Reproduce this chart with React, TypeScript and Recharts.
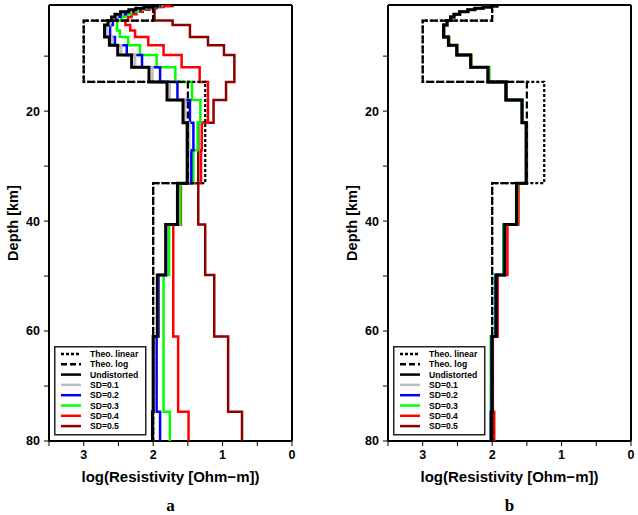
import { ScatterChart, Scatter, XAxis, YAxis } from 'recharts'

// layer tops in km (last layer runs to 80 km)
const layerTops = [0.7, 0.86, 1.05, 1.28, 1.57, 1.93, 2.36, 2.89, 3.54, 4.34, 5.32, 6.52, 8.0, 9.8, 12.0, 14.7, 18.0, 22.1, 27.1, 33.1, 40.6, 49.8, 61.0, 74.7]
const maxDepth = 80

// theoretical model
const theoTops = [0.7, 3.54, 14.7, 33.1]
const theoLinear = [2.0, 3.0, 1.25, 2.0]
const theoLog = [2.0, 3.0, 1.5, 2.0]

const undistorted = [1.93, 2.01, 2.13, 2.25, 2.35, 2.47, 2.55, 2.6, 2.65, 2.7, 2.7, 2.63, 2.51, 2.31, 2.06, 1.8, 1.57, 1.51, 1.51, 1.65, 1.82, 1.94, 2.0, 2.01]

// panel a
const aSd01 = [1.92, 1.99, 2.1, 2.22, 2.32, 2.44, 2.52, 2.57, 2.62, 2.67, 2.67, 2.59, 2.46, 2.26, 2.01, 1.76, 1.54, 1.48, 1.49, 1.64, 1.81, 1.93, 1.99, 2.0]
const aSd02 = [1.9, 1.97, 2.07, 2.18, 2.28, 2.39, 2.47, 2.53, 2.58, 2.62, 2.62, 2.55, 2.38, 2.16, 1.9, 1.65, 1.47, 1.42, 1.45, 1.64, 1.81, 1.92, 1.95, 1.9]
const aSd03 = [1.88, 1.94, 2.03, 2.13, 2.22, 2.32, 2.4, 2.46, 2.52, 2.52, 2.48, 2.36, 2.19, 1.95, 1.68, 1.44, 1.32, 1.36, 1.42, 1.61, 1.77, 1.85, 1.85, 1.76]
const aSd04 = [1.76, 1.85, 1.95, 2.05, 2.15, 2.24, 2.31, 2.36, 2.4, 2.33, 2.26, 2.07, 1.85, 1.59, 1.33, 1.21, 1.21, 1.3, 1.31, 1.6, 1.71, 1.71, 1.64, 1.49]
const aSd05 = [1.72, 1.9, 1.97, 1.98, 1.98, 1.98, 1.98, 1.98, 1.72, 1.47, 1.47, 1.21, 0.98, 0.83, 0.83, 0.95, 1.13, 1.35, 1.35, 1.35, 1.25, 1.12, 0.92, 0.72]

// panel b
const bSd01 = [1.93, 2.01, 2.13, 2.25, 2.35, 2.47, 2.55, 2.6, 2.65, 2.7, 2.7, 2.63, 2.51, 2.31, 2.06, 1.8, 1.57, 1.51, 1.51, 1.65, 1.82, 1.94, 2.0, 2.01]
const bSd02 = [1.93, 2.01, 2.13, 2.25, 2.35, 2.47, 2.55, 2.6, 2.65, 2.7, 2.7, 2.63, 2.51, 2.31, 2.06, 1.8, 1.57, 1.51, 1.51, 1.65, 1.83, 1.95, 2.01, 2.02]
const bSd03 = [1.92, 2.0, 2.12, 2.24, 2.34, 2.46, 2.54, 2.59, 2.64, 2.69, 2.69, 2.62, 2.5, 2.3, 2.04, 1.79, 1.56, 1.5, 1.5, 1.64, 1.84, 1.96, 2.02, 2.02]
const bSd04 = [1.92, 2.0, 2.12, 2.24, 2.34, 2.46, 2.54, 2.59, 2.64, 2.69, 2.69, 2.62, 2.5, 2.3, 2.05, 1.81, 1.56, 1.5, 1.5, 1.62, 1.78, 1.92, 1.99, 1.97]
const bSd05 = [1.93, 2.01, 2.13, 2.25, 2.35, 2.47, 2.55, 2.6, 2.65, 2.7, 2.7, 2.63, 2.51, 2.31, 2.06, 1.8, 1.57, 1.51, 1.51, 1.65, 1.82, 1.94, 2.0, 2.01]

const xTicks = [0, 0.5, 1, 1.5, 2, 2.5, 3, 3.5]
const yTicks = [10, 20, 30, 40, 50, 60, 70, 80]

const legendItems = [
  { label: 'Theo. linear', color: '#000', dash: '3 2' },
  { label: 'Theo. log', color: '#000', dash: '6 3' },
  { label: 'Undistorted', color: '#000' },
  { label: 'SD=0.1', color: '#bdbdbd' },
  { label: 'SD=0.2', color: '#0000ff' },
  { label: 'SD=0.3', color: '#00ff00' },
  { label: 'SD=0.4', color: '#ff0000' },
  { label: 'SD=0.5', color: '#8b0000' },
]

const font = '"Liberation Sans", Arial, Helvetica, sans-serif'

function steps(tops: number[], vals: number[]) {
  const pts: { x: number; y: number }[] = []
  tops.forEach((t, i) => {
    const bot = i + 1 < tops.length ? tops[i + 1] : maxDepth
    pts.push({ x: vals[i], y: t }, { x: vals[i], y: bot })
  })
  return pts
}

const noDot = () => <g />

function Legend({ left, top }: { left: number; top: number }) {
  return (
    <svg width={93} height={90} style={{ position: 'absolute', left, top }}>
      <rect x={0.75} y={0.75} width={91} height={88} fill="#fff" stroke="#222" strokeWidth={1.5} />
      {legendItems.map((it, i) => {
        const y = 8 + i * 10.3
        return (
          <g key={it.label}>
            <line x1={7} x2={27} y1={y} y2={y} stroke={it.color} strokeWidth={2.5} strokeDasharray={it.dash} />
            <text x={36} y={y + 3} fontSize={8.6} fontWeight="bold" fontFamily={font} fill="#000">
              {it.label}
            </text>
          </g>
        )
      })}
    </svg>
  )
}

interface PanelProps {
  left: number
  width: number
  series: number[][]
  tag: string
}

function Panel({ left, width, series, tag }: PanelProps) {
  const colors = ['#8b0000', '#ff0000', '#00ff00', '#0000ff', '#bdbdbd']
  const sd = [series[4], series[3], series[2], series[1], series[0]]
  const plotLeft = left + 49
  const plotW = width - 8 - 49
  return (
    <>
      <div style={{ position: 'absolute', left, top: 0 }}>
        <ScatterChart width={width} height={470} margin={{ top: 0, right: 2, bottom: 0, left: 8 }}>
          <XAxis xAxisId="b" type="number" dataKey="x" domain={[0, 3.5]} reversed allowDataOverflow
            ticks={xTicks} interval={0} height={29} tickSize={5} tickMargin={4}
            tickFormatter={(v: number) => (Number.isInteger(v) ? String(v) : '')}
            axisLine={{ stroke: '#000', strokeWidth: 2 }} tickLine={{ stroke: '#000', strokeWidth: 1 }}
            tick={{ fill: '#000', fontSize: 12.5, fontWeight: 'bold', fontFamily: font }} />
          <XAxis xAxisId="t" orientation="top" type="number" dataKey="x" domain={[0, 3.5]} reversed allowDataOverflow
            ticks={xTicks} interval={0} height={5} tickSize={5} tick={false}
            axisLine={{ stroke: '#000', strokeWidth: 2 }} tickLine={{ stroke: '#000', strokeWidth: 1 }} />
          <YAxis yAxisId="l" type="number" dataKey="y" domain={[0.7, maxDepth]} reversed allowDataOverflow
            ticks={yTicks} interval={0} width={41} tickSize={5} tickMargin={4}
            tickFormatter={(v: number) => (v % 20 === 0 ? String(v) : '')}
            axisLine={{ stroke: '#000', strokeWidth: 2 }} tickLine={{ stroke: '#000', strokeWidth: 1 }}
            tick={{ fill: '#000', fontSize: 12.5, fontWeight: 'bold', fontFamily: font }} />
          <YAxis yAxisId="r" orientation="right" type="number" dataKey="y" domain={[0.7, maxDepth]} reversed allowDataOverflow
            ticks={yTicks} interval={0} width={6} tickSize={4} tick={false}
            axisLine={{ stroke: '#000', strokeWidth: 2 }} tickLine={{ stroke: '#000', strokeWidth: 1 }} />
          <Scatter xAxisId="t" yAxisId="r" data={[{ x: 0, y: 0.7 }, { x: 3.5, y: 80 }]} shape={noDot} isAnimationActive={false} />
          {sd.map((vals, i) => (
            <Scatter key={i} xAxisId="b" yAxisId="l" data={steps(layerTops, vals)} shape={noDot}
              line={{ stroke: colors[i], strokeWidth: 2.5 }} isAnimationActive={false} />
          ))}
          <Scatter xAxisId="b" yAxisId="l" data={steps(layerTops, undistorted)} shape={noDot}
            line={{ stroke: '#000', strokeWidth: 3 }} isAnimationActive={false} />
          <Scatter xAxisId="b" yAxisId="l" data={steps(theoTops, theoLog)} shape={noDot}
            line={{ stroke: '#000', strokeWidth: 2.2, strokeDasharray: '7 3' }} isAnimationActive={false} />
          <Scatter xAxisId="b" yAxisId="l" data={steps(theoTops, theoLinear)} shape={noDot}
            line={{ stroke: '#000', strokeWidth: 2.2, strokeDasharray: '3 2' }} isAnimationActive={false} />
        </ScatterChart>
      </div>
      <Legend left={plotLeft + 5} top={346} />
      <div style={{ position: 'absolute', left: plotLeft, width: plotW, top: 468, textAlign: 'center',
        fontFamily: font, fontWeight: 'bold', fontSize: 15, color: '#000' }}>
        log(Resistivity [Ohm−m])
      </div>
      <div style={{ position: 'absolute', left: plotLeft, width: plotW, top: 496, textAlign: 'center',
        fontFamily: '"Liberation Serif", "Times New Roman", serif', fontWeight: 'bold', fontSize: 17, color: '#000' }}>
        {tag}
      </div>
      <div style={{ position: 'absolute', left: left + 13 - 60, top: 223 - 10, width: 120, height: 20,
        transform: 'rotate(-90deg)', textAlign: 'center', lineHeight: '20px',
        fontFamily: font, fontWeight: 'bold', fontSize: 14.5, color: '#000' }}>
        Depth [km]
      </div>
    </>
  )
}

export default function App() {
  return (
    <div style={{ position: 'absolute', left: 0, top: 0, width: 638, height: 515, background: '#fff', overflow: 'hidden' }}>
      <Panel left={0} width={300} series={[aSd01, aSd02, aSd03, aSd04, aSd05]} tag="a" />
      <Panel left={339} width={300} series={[bSd01, bSd02, bSd03, bSd04, bSd05]} tag="b" />
    </div>
  )
}
